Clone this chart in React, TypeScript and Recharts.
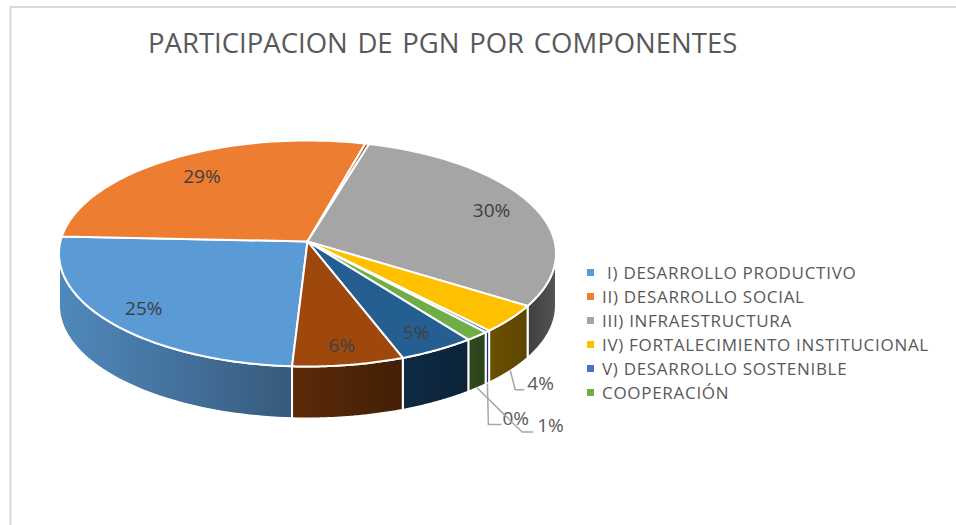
import React from "react";
import { PieChart, Pie, Legend, Customized } from "recharts";

const titleText = "PARTICIPACION DE PGN POR COMPONENTES";
const sliceNames = ["I) DESARROLLO PRODUCTIVO", "II) DESARROLLO SOCIAL", "Otros", "III) INFRAESTRUCTURA", "IV) FORTALECIMIENTO INSTITUCIONAL", "V) DESARROLLO SOSTENIBLE", "COOPERACIÓN", "Otros 2", "Otros 3"];
const sliceValues = [24.8, 28.47, 0.28, 29.72, 4, 0.3, 1.4, 4.5, 6.53];
const sliceLabels = ["25%", "29%", "", "30%", "4%", "0%", "1%", "5%", "6%"];
const topColors = ["#5B9BD5", "#ED7D31", "#A5572A", "#A5A5A5", "#FFC000", "#4472C4", "#70AD47", "#255E91", "#9E480E"];
const wallFrom = ["#5089BC", "#8A4A1D", "#5A2A08", "#555555", "#6B5000", "#1F3468", "#2E4A1E", "#0E2A45", "#5C2A08"];
const wallTo = ["#375A7C", "#8A4A1D", "#5A2A08", "#3E3E3E", "#5C4500", "#1F3468", "#2A441B", "#0C2338", "#431F06"];
const legendNames = [" I) DESARROLLO PRODUCTIVO", "II) DESARROLLO SOCIAL", "III) INFRAESTRUCTURA", "IV) FORTALECIMIENTO INSTITUCIONAL", "V) DESARROLLO SOSTENIBLE", "COOPERACIÓN"];
const legendColors = ["#5B9BD5", "#ED7D31", "#A5A5A5", "#FFC000", "#4472C4", "#70AD47"];

const tableData = sliceNames.map((name, i) => ({ name, value: sliceValues[i], label: sliceLabels[i], fill: topColors[i], index: i }));

// Layout of the tilted pie
const CX = 307.5;
const CY = 253.5;
const RY = 113;
const RX = 248.5;
const DEPTH = 52;
const TILT = -0.107;
const FONT = "'Open Sans', sans-serif";

// Projects a point of the flat pie (angle in recharts' convention, radial fraction f) on the screen.
function project(cx: number, cy: number, deg: number, f: number): [number, number, number] {
  const a = (deg * Math.PI) / 180;
  const x = Math.cos(a) * f;
  const y = -Math.sin(a) * f;
  const d = 1 + TILT * y;
  const px = (x * Math.sqrt(1 - TILT * TILT)) / d;
  const py = (y + TILT) / d;
  return [cx + px * RX, cy + py * RY, py];
}

function SliceShape(props: any) {
  const { cx, cy, startAngle, endAngle, fill, index } = props;
  const steps = 60;
  const rim: [number, number, number][] = [];
  for (let i = 0; i <= steps; i++) {
    rim.push(project(cx, cy, startAngle + ((endAngle - startAngle) * i) / steps, 1));
  }
  const apex = project(cx, cy, 0, 0);
  const top = `M${apex[0]},${apex[1]} ` + rim.map((p) => `L${p[0]},${p[1]}`).join(" ") + " Z";
  const front = rim.filter((p) => p[2] >= 0);
  let wall = "";
  let minX = 0;
  let maxX = 1;
  if (front.length > 1) {
    const down = [...front].reverse().map((p) => `L${p[0]},${p[1] + DEPTH}`).join(" ");
    wall = "M" + front.map((p) => `${p[0]},${p[1]}`).join(" L") + " " + down + " Z";
    const xs = front.map((p) => p[0]);
    minX = Math.min(...xs);
    maxX = Math.max(...xs);
  }
  const gid = `wall-${index}`;
  return (
    <g>
      {wall && (
        <>
          <defs>
            <linearGradient id={gid} gradientUnits="userSpaceOnUse" x1={minX} x2={maxX} y1={0} y2={0}>
              <stop offset="0%" stopColor={index === 3 ? wallTo[index] : wallFrom[index]} />
              <stop offset="100%" stopColor={index === 3 ? wallFrom[index] : wallTo[index]} />
            </linearGradient>
          </defs>
          <path d={wall} fill={`url(#${gid})`} stroke="#fff" strokeWidth={2} strokeLinejoin="round" />
        </>
      )}
      <path d={top} fill={fill} stroke="#fff" strokeWidth={2} strokeLinejoin="round" />
    </g>
  );
}

// How far along the radius each inner label sits.
const innerFraction: Record<string, number> = { "25%": 0.84, "29%": 0.77, "30%": 0.82, "5%": 0.85, "6%": 0.85 };
// Leader lines of the outer labels: offsets from the pie's lower rim.
const outerPlacement: Record<string, { elbow: [number, number]; end: [number, number]; text: [number, number] }> = {
  "4%": { elbow: [5, 19], end: [14, 19], text: [17, 12] },
  "0%": { elbow: [1, 41], end: [14, 41], text: [15, 35] },
  "1%": { elbow: [45, 44], end: [56, 44], text: [60, 37] },
};

function SliceLabel(props: any) {
  const { cx, cy, midAngle, label } = props;
  const text = label ?? props.payload?.label;
  if (!text) return null;
  const common = { fontFamily: FONT, fontSize: 19, fill: "#404040" };
  const outer = outerPlacement[text];
  if (outer) {
    const [rx, ry0] = project(cx, cy, midAngle, 1);
    const ry = ry0 + DEPTH;
    return (
      <g>
        <polyline
          points={`${rx},${ry} ${rx + outer.elbow[0]},${ry + outer.elbow[1]} ${rx + outer.end[0]},${ry + outer.end[1]}`}
          fill="none"
          stroke="#A6A6A6"
          strokeWidth={1.5}
        />
        <text x={rx + outer.text[0]} y={ry + outer.text[1]} dominantBaseline="central" {...common} fill="#595959">{text}</text>
      </g>
    );
  }
  const [x, y] = project(cx, cy, midAngle, innerFraction[text] ?? 0.8);
  return <text x={x} y={y} textAnchor="middle" dominantBaseline="central" {...common}>{text}</text>;
}

function LegendBox() {
  return (
    <div style={{ fontFamily: FONT, fontSize: 17, letterSpacing: 0.7, color: "#595959" }}>
      {legendNames.map((name, i) => (
        <div key={name} style={{ display: "flex", alignItems: "center", height: 24, whiteSpace: "pre" }}>
          <span style={{ width: 7, height: 7, background: legendColors[i], marginRight: 8, flex: "none" }} />
          <span>{name}</span>
        </div>
      ))}
    </div>
  );
}

function Frame() {
  return (
    <g>
      <polyline points="10.5,525 10.5,7 956,7" fill="none" stroke="#D9D9D9" strokeWidth={2} />
      <text x={148} y={53} fontFamily={FONT} fontSize={27.5} wordSpacing={2.5} fill="#595959">{titleText}</text>
    </g>
  );
}

export default function App() {
  return (
    <div style={{ position: "absolute", left: 0, top: 0, width: 956, height: 525, background: "#fff" }}>
      <PieChart width={956} height={525} margin={{ top: 0, right: 0, bottom: 0, left: 0 }}>
        <Customized component={Frame} />
        <Pie
          data={tableData}
          dataKey="value"
          nameKey="name"
          cx={CX}
          cy={CY}
          innerRadius={0}
          outerRadius={RY}
          startAngle={-93.2}
          endAngle={-453.2}
          paddingAngle={0}
          isAnimationActive={false}
          shape={SliceShape}
          label={SliceLabel}
          labelLine={false}
          stroke="#fff"
        />
        <Legend
          layout="vertical"
          align="right"
          verticalAlign="top"
          content={LegendBox}
          wrapperStyle={{ left: 587, right: "auto", top: 260, width: 360 }}
        />
      </PieChart>
    </div>
  );
}
